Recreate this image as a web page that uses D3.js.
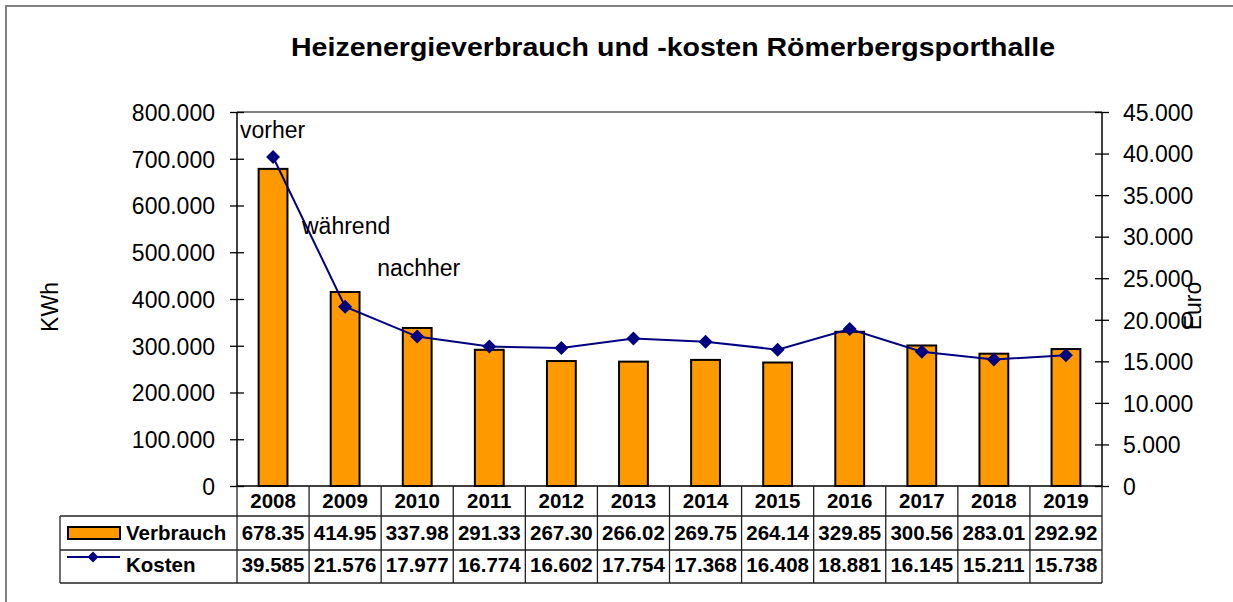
<!DOCTYPE html>
<html>
<head>
<meta charset="utf-8">
<script src="https://cdn.jsdelivr.net/npm/d3@7"></script>
<style>
  body { margin: 0; background: #fff; }
  svg { display: block; font-family: "Liberation Sans", Arial, sans-serif; }
</style>
</head>
<body>
<svg id="chart"></svg>
<script>
const width = 1233;
const height = 602;

// Data
const years = ['2008', '2009', '2010', '2011', '2012', '2013', '2014', '2015', '2016', '2017', '2018', '2019'];
const verbrauch = [678350, 414950, 337980, 291330, 267300, 266020, 269750, 264140, 329850, 300560, 283010, 292920];
const kosten = [39585, 21576, 17977, 16774, 16602, 17754, 17368, 16408, 18881, 16145, 15211, 15738];
const leftTicks = [0, 100000, 200000, 300000, 400000, 500000, 600000, 700000, 800000];
const rightTicks = [0, 5000, 10000, 15000, 20000, 25000, 30000, 35000, 40000, 45000];

// text boxes placed in the plot (category + kWh height)
const notes = [
    {text: 'vorher', year: '2008', dx: 3, kwh: 745000},
    {text: 'während', year: '2008', dx: 65, kwh: 538000},
    {text: 'nachher', year: '2010', dx: -4, kwh: 450000}
];

const plot = {left: 237, right: 1102, top: 112, bottom: 486};
const orange = '#ff9900';
const navy = '#000080';

const de = d3.formatLocale({decimal: ',', thousands: '.', grouping: [3], currency: ['', '€']});
const fmt = de.format(',');

const svg = d3.select('#chart')
    .attr('width', width)
    .attr('height', height);

svg.append('rect')
    .attr('width', width).attr('height', height)
    .attr('fill', '#fff');

// outer chart border (runs off right / bottom)
svg.append('rect')
    .attr('x', 6).attr('y', 6)
    .attr('width', width + 20).attr('height', height + 20)
    .attr('fill', 'none')
    .attr('stroke', '#808080')
    .attr('stroke-width', 2);

// Scales
const x = d3.scaleBand()
    .domain(years)
    .range([plot.left, plot.right])
    .paddingInner(0)
    .paddingOuter(0);

const yL = d3.scaleLinear()
    .domain([0, 800000])
    .range([plot.bottom, plot.top]);

const yR = d3.scaleLinear()
    .domain([0, 45000])
    .range([plot.bottom, plot.top]);

const barW = x.bandwidth() * 0.4;
const cx = d => x(d) + x.bandwidth() / 2;

// Title
svg.append('text')
    .attr('x', 673)
    .attr('y', 56)
    .attr('text-anchor', 'middle')
    .attr('textLength', 764)
    .attr('lengthAdjust', 'spacingAndGlyphs')
    .style('font-size', '26px')
    .style('font-weight', 'bold')
    .text('Heizenergieverbrauch und -kosten Römerbergsporthalle');

// plot area top border
svg.append('line')
    .attr('x1', plot.left).attr('x2', plot.right)
    .attr('y1', plot.top).attr('y2', plot.top)
    .attr('stroke', '#808080')
    .attr('stroke-width', 2);

// Bars
svg.append('g')
    .selectAll('rect')
    .data(years)
    .join('rect')
    .attr('x', d => cx(d) - barW / 2)
    .attr('y', (d, i) => yL(verbrauch[i]))
    .attr('width', barW)
    .attr('height', (d, i) => yL(0) - yL(verbrauch[i]))
    .attr('fill', orange)
    .attr('stroke', '#000')
    .attr('stroke-width', 2);

// Axes
function crossTicks(g, size) {
    g.selectAll('.tick line').attr('x1', -size).attr('x2', size).attr('stroke', '#000').attr('stroke-width', 1.3);
    g.select('.domain').remove();
    g.selectAll('.tick text')
        .style('font-size', '23px')
        .attr('fill', '#000')
        .attr('dy', '0.36em');
}

const axL = svg.append('g')
    .attr('transform', `translate(${plot.left},0)`)
    .call(d3.axisLeft(yL).tickValues(leftTicks).tickFormat(fmt).tickSize(7).tickPadding(15));
crossTicks(axL, 7);
axL.selectAll('.tick text').attr('x', -22);

const axR = svg.append('g')
    .attr('transform', `translate(${plot.right},0)`)
    .call(d3.axisRight(yR).tickValues(rightTicks).tickFormat(fmt).tickSize(7).tickPadding(15));
crossTicks(axR, 7);
axR.selectAll('.tick text').attr('x', 21);

// axis lines
svg.append('line')
    .attr('x1', plot.left).attr('x2', plot.left)
    .attr('y1', plot.top).attr('y2', plot.bottom)
    .attr('stroke', '#000').attr('stroke-width', 1.5);
svg.append('line')
    .attr('x1', plot.right).attr('x2', plot.right)
    .attr('y1', plot.top).attr('y2', plot.bottom)
    .attr('stroke', '#000').attr('stroke-width', 1.5);
svg.append('line')
    .attr('x1', plot.left).attr('x2', plot.right)
    .attr('y1', plot.bottom).attr('y2', plot.bottom)
    .attr('stroke', '#000').attr('stroke-width', 1.5);

// Axis titles
svg.append('text')
    .attr('transform', 'translate(58,307) rotate(-90)')
    .attr('text-anchor', 'middle')
    .style('font-size', '23px')
    .text('KWh');

svg.append('text')
    .attr('transform', 'translate(1201,306) rotate(-90)')
    .attr('text-anchor', 'middle')
    .style('font-size', '23px')
    .text('Euro');

// Kosten line
const diamond = r => `M0,${-r}L${r},0L0,${r}L${-r},0Z`;

svg.append('path')
    .datum(years)
    .attr('fill', 'none')
    .attr('stroke', navy)
    .attr('stroke-width', 2)
    .attr('d', d3.line().x(d => cx(d)).y((d, i) => yR(kosten[i])));

svg.append('g')
    .selectAll('path')
    .data(years)
    .join('path')
    .attr('transform', (d, i) => `translate(${cx(d)},${yR(kosten[i])})`)
    .attr('d', diamond(7))
    .attr('fill', navy);

// Annotations
svg.append('g')
    .selectAll('text')
    .data(notes)
    .join('text')
    .attr('x', d => x(d.year) + d.dx)
    .attr('y', d => yL(d.kwh))
    .style('font-size', '23px')
    .text(d => d.text);

// Data table
const rows = {header: [486, 516], v: [516, 550], k: [550, 583]};
const tableLeft = 60;
const tbl = svg.append('g');
const lineStyle = sel => sel.attr('stroke', '#222').attr('stroke-width', 1.3);

// horizontal rules
[rows.v[0], rows.k[0], rows.k[1]].forEach(yy => {
    tbl.append('line')
        .attr('x1', tableLeft).attr('x2', plot.right)
        .attr('y1', yy).attr('y2', yy)
        .call(lineStyle);
});
// column boundaries
const bounds = years.map(d => x(d)).concat([plot.right]);
tbl.selectAll('.vline')
    .data(bounds)
    .join('line')
    .attr('class', 'vline')
    .attr('x1', d => d).attr('x2', d => d)
    .attr('y1', rows.header[0]).attr('y2', rows.k[1])
    .call(lineStyle);
tbl.append('line')
    .attr('x1', tableLeft).attr('x2', tableLeft)
    .attr('y1', rows.v[0]).attr('y2', rows.k[1])
    .call(lineStyle);

const cellText = s => s.length > 6 ? s.slice(0, 6) : s;

tbl.selectAll('.year')
    .data(years)
    .join('text')
    .attr('class', 'year')
    .attr('x', d => cx(d))
    .attr('y', 508)
    .attr('text-anchor', 'middle')
    .style('font-size', '20.5px')
    .style('font-weight', 'bold')
    .text(d => d);

tbl.selectAll('.vval')
    .data(verbrauch)
    .join('text')
    .attr('class', 'vval')
    .attr('x', (d, i) => cx(years[i]))
    .attr('y', 540)
    .attr('text-anchor', 'middle')
    .style('font-size', '20.5px')
    .style('font-weight', 'bold')
    .text(d => cellText(fmt(d)));

tbl.selectAll('.kval')
    .data(kosten)
    .join('text')
    .attr('class', 'kval')
    .attr('x', (d, i) => cx(years[i]))
    .attr('y', 572)
    .attr('text-anchor', 'middle')
    .style('font-size', '20.5px')
    .style('font-weight', 'bold')
    .text(d => cellText(fmt(d)));

// legend keys
tbl.append('rect')
    .attr('x', 68).attr('y', 527)
    .attr('width', 52).attr('height', 12)
    .attr('fill', orange)
    .attr('stroke', '#000')
    .attr('stroke-width', 2);
tbl.append('text')
    .attr('x', 126).attr('y', 540)
    .style('font-size', '20.5px')
    .style('font-weight', 'bold')
    .text('Verbrauch');

tbl.append('line')
    .attr('x1', 67).attr('x2', 120)
    .attr('y1', 557).attr('y2', 557)
    .attr('stroke', navy).attr('stroke-width', 2);
tbl.append('path')
    .attr('transform', 'translate(93,557)')
    .attr('d', diamond(5.5))
    .attr('fill', navy);
tbl.append('text')
    .attr('x', 126).attr('y', 572)
    .style('font-size', '20.5px')
    .style('font-weight', 'bold')
    .text('Kosten');
</script>
</body>
</html>
